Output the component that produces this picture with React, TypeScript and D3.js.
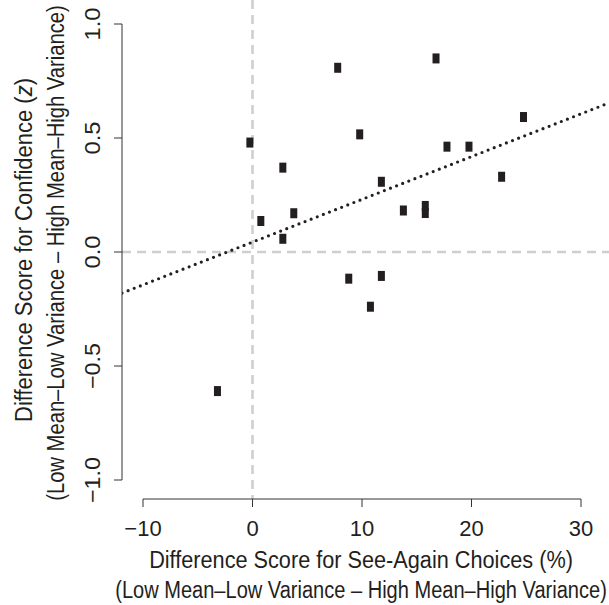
import React, { useLayoutEffect, useRef, useState } from "react";
import * as d3 from "d3";

const xTicks = [-10, 0, 10, 20, 30];
const yTicks = [-1.0, -0.5, 0.0, 0.5, 1.0];
const yTickLabels = ["\u22121.0", "\u22120.5", "0.0", "0.5", "1.0"];
const xTickLabels = ["\u221210", "0", "10", "20", "30"];
const seeAgainDiff = [7.78, 16.76, -0.24, 9.79, 24.75, 17.76, 19.77, 2.77, 22.75, 11.77, 0.76, 3.77, 13.78, 15.78, 15.78, 2.77, 8.79, 11.77, 10.77, -3.2];
const confidenceDiff = [0.808, 0.849, 0.48, 0.516, 0.592, 0.462, 0.462, 0.37, 0.33, 0.308, 0.136, 0.17, 0.182, 0.202, 0.171, 0.058, -0.117, -0.105, -0.24, -0.61];
const fitIntercept = 0.0435;
const fitSlope = 0.01875;

const W = 609;
const H = 605;
const textColor = "#231f20";

function FitText(props: { x: number; y: number; rotate?: number; width: number; fontSize: number; children: React.ReactNode }) {
  const ref = useRef<SVGTextElement>(null);
  const [sx, setSx] = useState(1);
  useLayoutEffect(() => {
    if (ref.current) {
      const natural = ref.current.getComputedTextLength();
      if (natural > 0) setSx(props.width / natural);
    }
  }, [props.width]);
  return (
    <g transform={`translate(${props.x},${props.y}) rotate(${props.rotate || 0}) scale(${sx},1)`}>
      <text ref={ref} x={0} y={0} textAnchor="middle" fontSize={props.fontSize} fill={textColor}>
        {props.children}
      </text>
    </g>
  );
}

export default function App() {
  const x = d3.scaleLinear().domain([-10, 30]).range([143, 581]);
  const y = d3.scaleLinear().domain([-1, 1]).range([480, 24]);
  const plotLeft = 122;
  const plotRight = 609;
  const plotTop = 0;
  const plotBottom = 499;
  const xMin = x.invert(plotLeft);
  const xMax = x.invert(plotRight);
  const fitLine = d3.line<number>().x((d) => x(d)).y((d) => y(fitIntercept + fitSlope * d));
  const font = "'Liberation Sans', Arial, Helvetica, sans-serif";
  const axisColor = "#333";
  return (
    <svg width={W} height={H} style={{ position: "absolute", left: 0, top: 0 }} fontFamily={font}>
      <defs>
        <clipPath id="plotclip">
          <rect x={plotLeft} y={plotTop} width={plotRight - plotLeft} height={plotBottom - plotTop} />
        </clipPath>
      </defs>
      <rect x={0} y={0} width={W} height={H} fill="#fff" />
      <g clipPath="url(#plotclip)">
        <line x1={plotLeft} x2={plotRight} y1={y(0)} y2={y(0)} stroke="#cfcfcf" strokeWidth={2.6} strokeDasharray="9 6" />
        <line x1={x(0)} x2={x(0)} y1={plotTop} y2={plotBottom} stroke="#cfcfcf" strokeWidth={2.6} strokeDasharray="9 6" />
        <path d={fitLine([xMin, xMax]) || ""} fill="none" stroke="#231f20" strokeWidth={3.2} strokeLinecap="round" strokeDasharray="0 6.55" />
        {seeAgainDiff.map((v, i) => (
          <rect key={i} x={x(v) - 3.5} y={y(confidenceDiff[i]) - 5} width={7} height={10} fill="#231f20" />
        ))}
      </g>
      {/* y axis */}
      <line x1={plotLeft} x2={plotLeft} y1={y(-1)} y2={y(1)} stroke={axisColor} strokeWidth={1} />
      {yTicks.map((t, i) => (
        <g key={i}>
          <line x1={plotLeft - 8} x2={plotLeft} y1={y(t)} y2={y(t)} stroke={axisColor} strokeWidth={1} />
          <FitText x={100} y={y(t)} rotate={-90} width={t < 0 ? 46 : 33} fontSize={22}>
            {yTickLabels[i]}
          </FitText>
        </g>
      ))}
      {/* x axis */}
      <line x1={x(-10)} x2={x(30)} y1={plotBottom} y2={plotBottom} stroke={axisColor} strokeWidth={1} />
      {xTicks.map((t, i) => (
        <g key={i}>
          <line x1={x(t)} x2={x(t)} y1={plotBottom} y2={plotBottom + 8} stroke={axisColor} strokeWidth={1} />
          <text x={x(t)} y={536} textAnchor="middle" fontSize={22} fill={textColor}>
            {xTickLabels[i]}
          </text>
        </g>
      ))}
      <FitText x={361} y={568} width={424} fontSize={24.5}>
        Difference Score for See-Again Choices (%)
      </FitText>
      <FitText x={361} y={598} width={492} fontSize={23.5}>
        (Low Mean–Low Variance – High Mean–High Variance)
      </FitText>
      <FitText x={32} y={250} rotate={-90} width={344} fontSize={24.5}>
        Difference Score for Confidence (<tspan fontStyle="italic">z</tspan>)
      </FitText>
      <FitText x={64} y={253} rotate={-90} width={496} fontSize={23.5}>
        (Low Mean–Low Variance – High Mean–High Variance)
      </FitText>
    </svg>
  );
}
